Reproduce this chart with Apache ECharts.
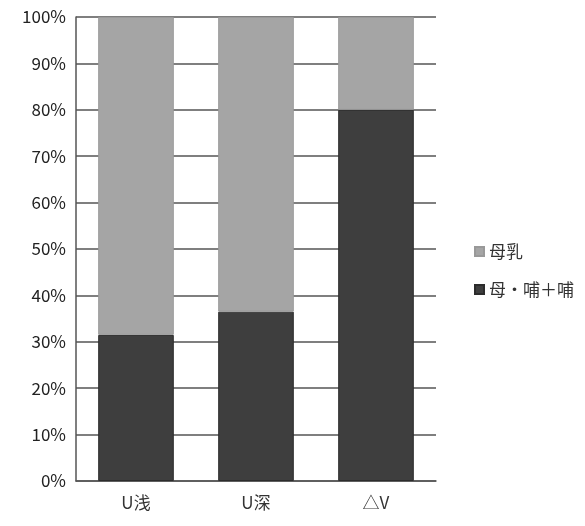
<!DOCTYPE html>
<html>
<head>
<meta charset="utf-8">
<script src="https://cdn.jsdelivr.net/npm/echarts@6/dist/echarts.min.js"></script>
<style>
  html, body { margin: 0; padding: 0; background: #fff; }
  #chart { width: 585px; height: 526px; }
</style>
</head>
<body>
<div id="chart"></div>
<script>
// Feeding type share by group (stacked to 100%)
const categories = ['U浅', 'U深', '△V'];
const mixedShare = [31.5, 36.5, 80];   // 母•哺＋哺
const breastShare = [68.5, 63.5, 20];  // 母乳
const yTicks = [0, 10, 20, 30, 40, 50, 60, 70, 80, 90, 100];

const font = '"Noto Sans CJK SC", "DejaVu Sans", sans-serif';

const chart = echarts.init(document.getElementById('chart'), null, { renderer: 'canvas' });
chart.setOption({
  animation: false,
  backgroundColor: '#ffffff',
  grid: { left: 76, right: 149, top: 17, bottom: 45, containLabel: false },
  legend: {
    orient: 'vertical',
    left: 469,
    top: 238,
    itemWidth: 9,
    itemHeight: 9,
    itemGap: 21,
    icon: 'rect',
    textStyle: { fontFamily: font, fontSize: 17, color: '#333' },
    data: ['母乳', '母•哺＋哺']
  },
  xAxis: {
    type: 'category',
    data: categories,
    axisLine: { lineStyle: { color: '#555', width: 1.5 } },
    axisTick: { show: false },
    axisLabel: { fontFamily: font, fontSize: 17, color: '#333', margin: 13 }
  },
  yAxis: {
    type: 'value',
    min: yTicks[0],
    max: yTicks[yTicks.length - 1],
    interval: 10,
    axisLine: { show: true, lineStyle: { color: '#555', width: 1.5 } },
    axisTick: { show: false },
    splitLine: { lineStyle: { color: '#555', width: 1.5 } },
    axisLabel: { fontFamily: font, fontSize: 17, color: '#222', margin: 10, formatter: '{value}%' }
  },
  series: [
    {
      name: '母•哺＋哺',
      type: 'bar',
      stack: 'total',
      barWidth: '63%',
      data: mixedShare,
      itemStyle: { color: '#3e3e3e', borderColor: '#2c2c2c', borderWidth: 1 }
    },
    {
      name: '母乳',
      type: 'bar',
      stack: 'total',
      barWidth: '63%',
      data: breastShare,
      itemStyle: { color: '#a5a5a5', borderColor: '#999999', borderWidth: 1 }
    }
  ]
});
</script>
</body>
</html>
